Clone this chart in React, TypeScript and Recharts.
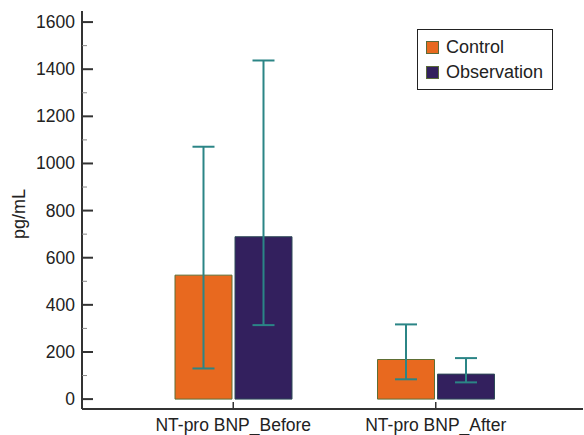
import { BarChart, Bar, XAxis, YAxis, ErrorBar, Legend } from 'recharts'

const categories = ['NT-pro BNP_Before', 'NT-pro BNP_After']
const controlMeans = [526, 168]
const controlUpper = [1071, 317]
const controlLower = [130, 84]
const observationMeans = [689, 106]
const observationUpper = [1437, 174]
const observationLower = [314, 71]
const yTicks = [0, 100, 200, 300, 400, 500, 600, 700, 800, 900, 1000, 1100, 1200, 1300, 1400, 1500, 1600]

const FONT = '"Liberation Sans", Arial, Helvetica, sans-serif'
const AXIS = '#333'
const ORANGE = '#e8691f'
const NAVY = '#33205e'
const TEAL = '#2b8586'

const data = categories.map((name, i) => ({
  name,
  control: controlMeans[i],
  controlErr: [controlMeans[i] - controlLower[i], controlUpper[i] - controlMeans[i]],
  observation: observationMeans[i],
  observationErr: [observationMeans[i] - observationLower[i], observationUpper[i] - observationMeans[i]],
}))

function YTick(props: any) {
  const { x, y, payload } = props
  const major = payload.value % 200 === 0
  return (
    <g>
      <line x1={x} x2={x + (major ? 11 : 5)} y1={y} y2={y} stroke={major ? AXIS : '#888'} strokeWidth={major ? 2 : 1} />
      {major && (
        <text x={x - 7} y={y} dy={6} textAnchor="end" fontSize={17.5} fontFamily={FONT} fill="#222">
          {payload.value}
        </text>
      )}
    </g>
  )
}

function XTick(props: any) {
  const { x, y, payload } = props
  return (
    <g>
      <line x1={x} x2={x} y1={y} y2={y - 7} stroke={AXIS} strokeWidth={1.5} />
      <text x={x} y={y} dy={22} textAnchor="middle" fontSize={17.5} fontFamily={FONT} fill="#222">
        {payload.value}
      </text>
    </g>
  )
}

function LegendBox(props: any) {
  const items = props.payload || []
  return (
    <div style={{ border: '1.5px solid #222', background: 'white', padding: '5px 0 4px 8px', fontFamily: FONT, fontSize: 18, color: '#222', lineHeight: '25px' }}>
      {items.map((it: any) => (
        <div key={it.value} style={{ display: 'flex', alignItems: 'center' }}>
          <span style={{ width: 11, height: 11, background: it.color, border: '1px solid #5a6a3a', marginRight: 7 }} />
          {it.value}
        </div>
      ))}
    </div>
  )
}

export default function App() {
  return (
    <div style={{ position: 'absolute', left: 0, top: 0, background: 'white' }}>
      <BarChart width={584} height={435} data={data} margin={{ top: 11, right: 1, left: 0, bottom: 0 }} barSize={57} barGap={3}>
        <XAxis
          dataKey="name"
          height={26}
          padding={{ left: 50, right: 46 }}
          stroke={AXIS}
          strokeWidth={2}
          tickLine={false}
          tickSize={0}
          tickMargin={0}
          tick={<XTick />}
          interval={0}
        />
        <YAxis
          width={82}
          domain={[-42, 1647]}
          ticks={yTicks}
          interval={0}
          stroke={AXIS}
          strokeWidth={2}
          tickLine={false}
          tickSize={0}
          tickMargin={0}
          tick={<YTick />}
          label={{ value: 'pg/mL', angle: -90, position: 'insideLeft', offset: 19, dy: 4, style: { textAnchor: 'middle', fontSize: 18, fontFamily: FONT, fill: '#222' } }}
        />
        <Legend
          layout="vertical"
          align="center"
          verticalAlign="middle"
          wrapperStyle={{ position: 'absolute', left: 417, top: 29, width: 136 }}
          content={<LegendBox />}
        />
        <Bar dataKey="control" name="Control" fill={ORANGE} stroke="#5e6e34" strokeWidth={1} isAnimationActive={false}>
          <ErrorBar dataKey="controlErr" width={11} stroke={TEAL} strokeWidth={2} />
        </Bar>
        <Bar dataKey="observation" name="Observation" fill={NAVY} stroke="#2e4a58" strokeWidth={1} isAnimationActive={false}>
          <ErrorBar dataKey="observationErr" width={11} stroke={TEAL} strokeWidth={2} />
        </Bar>
      </BarChart>
    </div>
  )
}
